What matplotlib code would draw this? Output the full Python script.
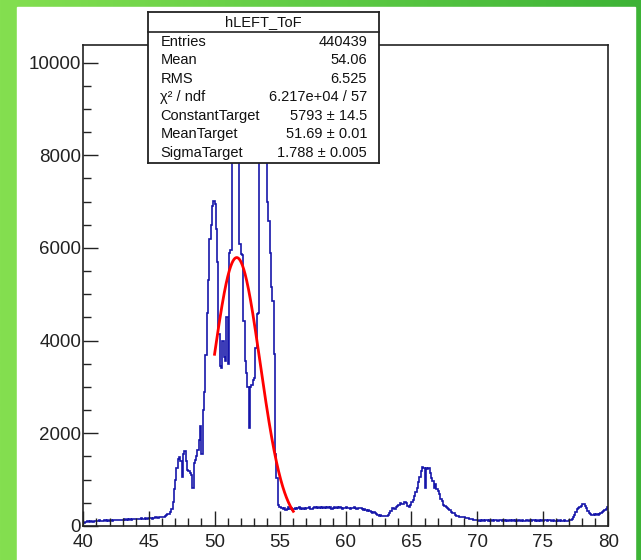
import numpy as np
import matplotlib
matplotlib.use("Agg")
import matplotlib.pyplot as plt
from matplotlib.patches import Rectangle
from matplotlib.colors import LinearSegmentedColormap
from matplotlib.ticker import MultipleLocator

# ---------------- data ----------------
x_min, x_max, bin_width = 40.0, 80.0, 0.1
counts = [
    70, 90, 80, 100, 90, 110, 100, 95, 110, 100,          # 40
    110, 105, 120, 110, 100, 115, 120, 110, 125, 115,     # 41
    120, 130, 115, 125, 140, 130, 120, 135, 125, 130,     # 42
    140, 150, 135, 145, 130, 150, 140, 155, 145, 150,     # 43
    150, 160, 145, 155, 165, 150, 160, 170, 160, 165,     # 44
    170, 175, 160, 180, 170, 185, 175, 180, 190, 185,     # 45
    200, 205, 215, 230, 250, 260, 300, 360, 520, 800,     # 46
    1000, 1250, 1450, 1480, 1400, 1050, 1550, 1620, 1400, 1200,  # 47
    1180, 1150, 1100, 820, 1350, 1420, 1500, 1650, 1850, 2150,   # 48
    1550, 2500, 2900, 3700, 4600, 5300, 6200, 6500, 6900, 7020,  # 49
    6950, 6400, 5700, 4150, 3450, 3400, 4000, 3650, 3550, 4500,  # 50
    3500, 5900, 5950, 8500, 9200, 9500, 9300, 9000, 8400, 6090,  # 51
    5870, 5850, 4430, 3560, 3300, 2990, 2120, 2990, 3050, 3150,  # 52
    3200, 3850, 4570, 4600, 8500, 9400, 9880, 9700, 9300, 8600,  # 53
    7000, 6590, 5900, 5150, 4860, 3710, 1550, 1040, 450, 400,    # 54
    420, 380, 360, 390, 350, 370, 400, 360, 380, 340,     # 55
    370, 390, 360, 380, 400, 370, 390, 360, 380, 370,     # 56
    390, 380, 400, 370, 360, 380, 400, 390, 410, 380,     # 57
    400, 390, 420, 380, 400, 390, 410, 380, 400, 370,     # 58
    390, 400, 380, 410, 390, 400, 380, 360, 390, 380,     # 59
    400, 380, 390, 370, 390, 380, 400, 390, 370, 390,     # 60
    380, 390, 370, 350, 360, 340, 330, 350, 320, 300,     # 61
    290, 300, 270, 260, 240, 220, 230, 210, 220, 210,     # 62
    220, 215, 230, 280, 330, 390, 380, 370, 400, 430,     # 63
    460, 500, 480, 470, 510, 520, 490, 440, 400, 460,     # 64
    520, 560, 650, 740, 820, 950, 1050, 1180, 1270, 1260, # 65
    830, 1250, 1240, 1250, 1150, 1040, 980, 820, 900, 800,  # 66
    750, 680, 580, 530, 460, 430, 410, 390, 370, 340,     # 67
    310, 290, 270, 240, 220, 210, 200, 195, 200, 185,     # 68
    190, 180, 175, 170, 160, 150, 145, 140, 130, 125,     # 69
    120, 115, 125, 118, 122, 110, 120, 125, 115, 120,     # 70
    118, 122, 115, 120, 125, 118, 112, 120, 122, 118,     # 71
    120, 115, 122, 118, 125, 120, 115, 120, 118, 122,     # 72
    115, 120, 125, 118, 120, 112, 118, 122, 120, 115,     # 73
    120, 118, 122, 125, 115, 120, 118, 122, 115, 120,     # 74
    118, 122, 120, 115, 120, 125, 118, 115, 120, 118,     # 75
    115, 120, 118, 122, 115, 118, 120, 112, 118, 115,     # 76
    120, 130, 160, 200, 230, 300, 360, 380, 420, 440,     # 77
    470, 480, 430, 380, 330, 280, 250, 240, 230, 250,     # 78
    240, 250, 240, 260, 280, 300, 320, 340, 370, 400,     # 79
]

fit_const, fit_mean, fit_sigma = 5793.0, 51.69, 1.788
fit_lo, fit_hi = 50.0, 56.0

x_ticks = [40, 45, 50, 55, 60, 65, 70, 75, 80]
y_ticks = [0, 2000, 4000, 6000, 8000, 10000]
y_top = 10380

stats_title = "hLEFT_ToF"
stats_names = ["Entries", "Mean", "RMS", "\u03c7\u00b2 / ndf",
               "ConstantTarget", "MeanTarget", "SigmaTarget"]
stats_values = ["440439", "54.06", "6.525", "6.217e+04 / 57",
                "5793 \u00b1 14.5", "51.69 \u00b1 0.01", "1.788 \u00b1 0.005"]

# ---------------- figure ----------------
plt.rcParams['font.family'] = ['Liberation Sans', 'DejaVu Sans']
W, H = 641, 560
fig = plt.figure(figsize=(W / 100, H / 100), dpi=100)

def fx(px):
    return px / W

def fy(py):
    return 1 - py / H

# green gradient background + white panel
bg = fig.add_axes([0, 0, 1, 1])
bg.axis('off')
cmap = LinearSegmentedColormap.from_list('g', ['#84df50', '#5fcb45', '#3db336'])
bg.imshow(np.linspace(0, 1, 256).reshape(1, -1), aspect='auto', cmap=cmap,
          extent=[0, 1, 0, 1])
bg.add_patch(Rectangle((fx(17), 0), fx(635) - fx(17), fy(7), color='white',
                       transform=bg.transAxes, zorder=2))
bg.set_xlim(0, 1)
bg.set_ylim(0, 1)

# main axes
ax_l, ax_r, ax_t, ax_b = 83.3, 608.3, 45, 526
ax = fig.add_axes([fx(ax_l), fy(ax_b), fx(ax_r) - fx(ax_l), fy(ax_t) - fy(ax_b)])
ax.set_facecolor('none')

edges = x_min + bin_width * np.arange(len(counts) + 1)
ax.stairs(counts, edges, baseline=None, color='#1616aa', lw=1.2)

xf = np.linspace(fit_lo, fit_hi, 300)
yf = fit_const * np.exp(-0.5 * ((xf - fit_mean) / fit_sigma) ** 2)
ax.plot(xf, yf, color='#ff0000', lw=2.0)

ax.set_xlim(x_min, x_max)
ax.set_ylim(0, y_top)
ax.set_xticks(x_ticks)
ax.set_xticklabels([str(t) for t in x_ticks])
ax.set_yticks(y_ticks)
ax.set_yticklabels([str(t) for t in y_ticks])
ax.xaxis.set_minor_locator(MultipleLocator(1))
ax.yaxis.set_minor_locator(MultipleLocator(500))
ax.tick_params(which='major', direction='in', length=11, width=1.0,
               colors='#222222', labelsize=13.5, top=False, right=False)
ax.tick_params(which='minor', direction='in', length=5.8, width=1.0,
               colors='#222222', top=False, right=False)
ax.tick_params(axis='x', which='major', pad=6)
ax.tick_params(axis='y', which='major', pad=1.5)
for s in ax.spines.values():
    s.set_color('#222222')
    s.set_linewidth(1.2)

# stats box
bl, br, bt, bb = 148.3, 379, 12.3, 163.3
sax = fig.add_axes([fx(bl), fy(bb), fx(br) - fx(bl), fy(bt) - fy(bb)])
sax.set_xticks([])
sax.set_yticks([])
sax.set_facecolor('white')
for s in sax.spines.values():
    s.set_color('#222222')
    s.set_linewidth(1.3)
sep_y = 31.7
fig.add_artist(plt.Line2D([fx(bl), fx(br)], [fy(sep_y), fy(sep_y)],
                          color='#222222', lw=1.2))
fig.text(fx(263.5), fy(21.8), stats_title, ha='center', va='center',
         fontsize=10.5, color='#111111')
row0, dy = 41.7, 18.5
for i, (n, v) in enumerate(zip(stats_names, stats_values)):
    yy = fy(row0 + i * dy)
    fig.text(fx(160.5), yy, n, ha='left', va='center', fontsize=10.5,
             color='#111111')
    fig.text(fx(367), yy, v, ha='right', va='center', fontsize=10.5,
             color='#111111')

fig.savefig('out.png', dpi=100)
